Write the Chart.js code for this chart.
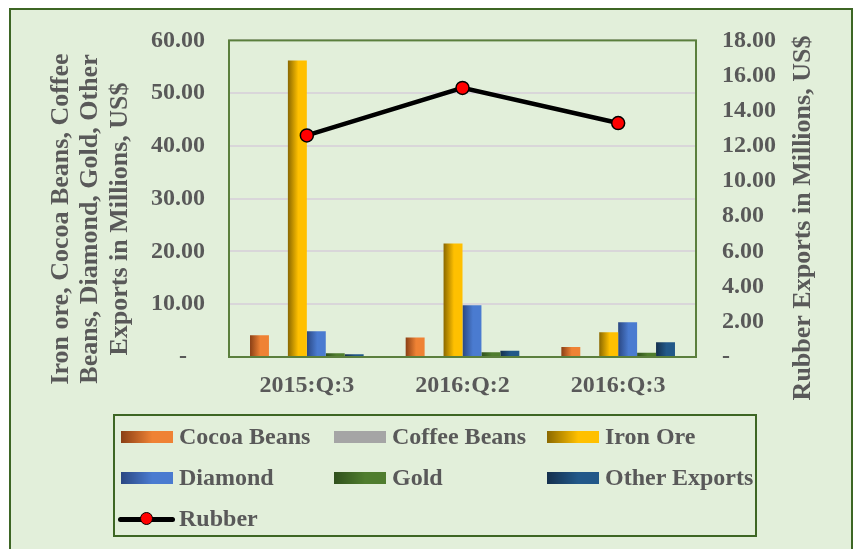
<!DOCTYPE html>
<html>
<head>
<meta charset="utf-8">
<script src="https://cdn.jsdelivr.net/npm/chart.js@4"></script>
<style>
  body { margin: 0; background: #ffffff; width: 857px; height: 549px; overflow: hidden; position: relative; }
  #frame { position: absolute; left: 9px; top: 8px; width: 840px; height: 600px; border: 2px solid #3d6624; background: #e2efda; }
  #chartBox { position: absolute; left: 0; top: 0; }
  #legend { position: absolute; left: 113px; top: 414px; width: 634px; height: 119px; border: 2px solid #3d6624;
            display: grid; grid-template-columns: 213px 213px 208px; grid-auto-rows: 41px; padding-left: 6px; box-sizing: content-box; }
  .item { display: flex; align-items: center; font: bold 24px 'Liberation Serif', 'Times New Roman', serif; color: #595959; white-space: nowrap; }
  .sw { width: 52px; height: 12px; margin-right: 6px; flex: none; }
  .ln { width: 57px; height: 14px; margin-left: -3px; margin-right: 4px; position: relative; flex: none; }
  .ln:before { content: ''; position: absolute; left: 0; right: 0; top: 5px; height: 5px; background: #000; border-radius: 3px; }
  .ln:after { content: ''; position: absolute; left: 22px; top: 0; width: 11px; height: 11px; border-radius: 50%; background: #ff0000; border: 1.5px solid #000; }
</style>
</head>
<body>
<div id="frame"></div>
<canvas id="chartBox" width="857" height="417"></canvas>
<div id="legend"></div>
<script>
// data
const categories = ['2015:Q:3', '2016:Q:2', '2016:Q:3'];
const cocoaBeans = [4.1, 3.7, 1.9];
const coffeeBeans = [0, 0, 0];
const ironOre = [56.2, 21.5, 4.7];
const diamond = [4.9, 9.8, 6.6];
const gold = [0.7, 0.9, 0.8];
const otherExports = [0.5, 1.2, 2.8];
const rubber = [12.6, 15.3, 13.3];
const leftAxisMax = 60, leftAxisStep = 10;
const rightAxisMax = 18, rightAxisStep = 2;
const leftTitle = ['Iron ore, Cocoa Beans, Coffee', 'Beans, Diamond, Gold, Other', 'Exports in Millions, US$'];
const rightTitle = 'Rubber Exports in Millions, US$';

// bar shading: dark edge -> light edge
const shades = {
  'Cocoa Beans': ['#8a3f15', '#ef8234'],
  'Coffee Beans': ['#a5a5a5', '#a5a5a5'],
  'Iron Ore': ['#8a6800', '#ffc000'],
  'Diamond': ['#2a4782', '#4a7bd0'],
  'Gold': ['#30501c', '#4f7d2e'],
  'Other Exports': ['#15304d', '#225889']
};

const textColor = '#595959';
const serif = "'Liberation Serif', 'Times New Roman', serif";

function barSet(label, values) {
  return {
    type: 'bar',
    label: label,
    data: values,
    yAxisID: 'y',
    order: 1,
    backgroundColor: function() { return shades[label][1]; },
    borderWidth: 0,
    categoryPercentage: 0.73,
    barPercentage: 1.0
  };
}

const shadePlugin = {
  id: 'shade',
  beforeDatasetsDraw(chart) {
    const c = chart.ctx;
    chart.data.datasets.forEach((ds, i) => {
      if (ds.type !== 'bar') return;
      const meta = chart.getDatasetMeta(i);
      meta.data.forEach(el => {
        const l = el.x - el.width / 2, r = el.x + el.width / 2;
        const g = c.createLinearGradient(l, 0, r, 0);
        g.addColorStop(0, shades[ds.label][0]);
        g.addColorStop(0.55, shades[ds.label][1]);
        g.addColorStop(1, shades[ds.label][1]);
        el.options.backgroundColor = g;
      });
    });
  },
  afterDatasetsDraw(chart) {
    const a = chart.chartArea, c = chart.ctx;
    c.save();
    c.strokeStyle = '#5b7f3d';
    c.lineWidth = 2;
    c.strokeRect(a.left, a.top, a.right - a.left, a.bottom - a.top);
    c.restore();
  },
  afterDraw(chart) {
    const c = chart.ctx;
    c.save();
    c.fillStyle = textColor;
    c.font = 'bold 26px ' + serif;
    c.textAlign = 'center';
    c.textBaseline = 'middle';
    const xs = [61, 90.5, 120];
    leftTitle.forEach((t, i) => {
      c.save();
      c.translate(xs[i], 219);
      c.rotate(-Math.PI / 2);
      c.fillText(t, 0, 0);
      c.restore();
    });
    c.translate(803, 218);
    c.rotate(-Math.PI / 2);
    c.fillText(rightTitle, 0, 0);
    c.restore();
  }
};

const chart = new Chart(document.getElementById('chartBox'), {
  data: {
    labels: categories,
    datasets: [
      {
        type: 'line',
        label: 'Rubber',
        data: rubber,
        yAxisID: 'y1',
        order: 0,
        borderColor: '#000000',
        borderWidth: 4.5,
        pointRadius: 6.5,
        pointBackgroundColor: '#ff0000',
        pointBorderColor: '#000000',
        pointBorderWidth: 1.5,
        tension: 0
      },
      barSet('Cocoa Beans', cocoaBeans),
      barSet('Coffee Beans', coffeeBeans),
      barSet('Iron Ore', ironOre),
      barSet('Diamond', diamond),
      barSet('Gold', gold),
      barSet('Other Exports', otherExports)
    ]
  },
  options: {
    responsive: false,
    animation: false,
    layout: { padding: { top: 37, left: 0, right: 0, bottom: 0 } },
    plugins: {
      legend: { display: false },
      title: { display: false },
      tooltip: { enabled: false }
    },
    scales: {
      x: {
        grid: { display: false, drawTicks: false },
        border: { display: false },
        ticks: { color: textColor, font: { family: serif, size: 24, weight: 'bold' }, padding: 14 },
        afterFit: s => { s.height = 60; }
      },
      y: {
        position: 'left',
        min: 0,
        max: leftAxisMax,
        grid: { color: '#d9d6d9', lineWidth: 2, drawTicks: false },
        border: { display: false },
        ticks: {
          stepSize: leftAxisStep,
          padding: 24,
          color: textColor,
          font: { family: serif, size: 24, weight: 'bold' },
          callback: v => v === 0 ? '-\u2007 ' : v.toFixed(2)
        },
        afterFit: s => { s.width = 229; }
      },
      y1: {
        position: 'right',
        min: 0,
        max: rightAxisMax,
        grid: { display: false, drawTicks: false },
        border: { display: false },
        ticks: {
          stepSize: rightAxisStep,
          padding: 26,
          color: textColor,
          font: { family: serif, size: 24, weight: 'bold' },
          callback: v => v === 0 ? '-' : v.toFixed(2)
        },
        afterFit: s => { s.width = 161; }
      }
    }
  },
  plugins: [shadePlugin]
});

// html legend, built from the chart's datasets (bars first, then the line)
const legendBox = document.getElementById('legend');
const ordered = chart.data.datasets.filter(d => d.type === 'bar').concat(chart.data.datasets.filter(d => d.type === 'line'));
ordered.forEach(ds => {
  const item = document.createElement('div');
  item.className = 'item';
  const mark = document.createElement('span');
  if (ds.type === 'line') {
    mark.className = 'ln';
  } else {
    mark.className = 'sw';
    mark.style.background = 'linear-gradient(to right, ' + shades[ds.label][0] + ', ' + shades[ds.label][1] + ' 60%)';
  }
  item.appendChild(mark);
  item.appendChild(document.createTextNode(ds.label));
  legendBox.appendChild(item);
});
</script>
</body>
</html>
